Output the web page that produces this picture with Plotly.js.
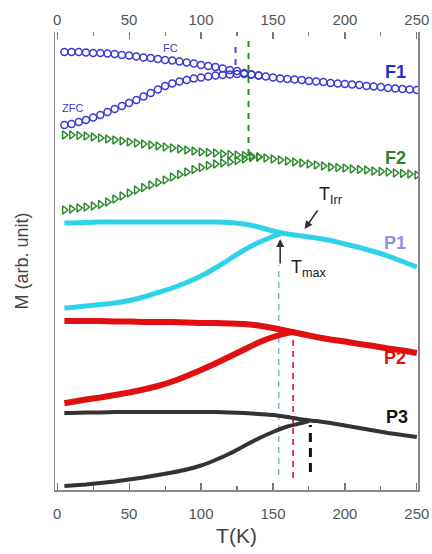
<!DOCTYPE html>
<html>
<head>
<meta charset="utf-8">
<script src="https://cdn.plot.ly/plotly-3.0.1.min.js"></script>
<style>html,body{margin:0;padding:0;background:#fff;}#chart{width:432px;height:554px;}</style>
</head>
<body>
<div id="chart"></div>
<script>
// Temperatures (K)
var T_F = [5,10,15,20,25,30,35,40,45,50,55,60,65,70,75,80,85,90,95,100,105,110,115,120,125,130,135,140,145,150,155,160,165,170,175,180,185,190,195,200,205,210,215,220,225,230,235,240,245,250];
var T_Fzfc = [5,10,15,20,25,30,35,40,45,50,55,60,65,70,75,80,85,90,95,100,105,110,115,120,125,130,135,140];
// F1 (arb. unit, offset stacked)
var F1_FC = [438,438,438,437.5,437,437,436.5,436,435,434.5,433.5,432.5,432,431,430,429.5,428.5,427.5,426.5,425,424,423,421.5,420,419,417,415.5,414.5,413.5,412.5,411.5,411,410.5,410,409,408.5,408,407,406.5,406,405.5,405,404,403.5,403,402,401.5,401,400.5,400];
var F1_ZFC = [365,366,368,370,372.5,375,378,381,384,387,390,393.5,397,400.5,404,406.5,408.5,410,411.5,412.5,413.5,414.5,415,415.5,416,416,415.5,414.5];
// F2
var F2_FC = [355,355,354.5,354,353,352,351,350,349,348,347,346,345,344,343,342,341,340,339,338,337.5,337,336,335.5,335,334.5,334,333,332,331,330,329,328,327,326,325,324,323,322.5,322,321,320.5,320,319,318.5,318,317,316.5,316,315];
var F2_ZFC = [280,281,282,283,284,285.5,288,291,294,297,300,302.5,305,307.5,310,313,315.5,318,320.5,322.5,324.5,326,327,328,329.5,331,332.5,333];
// P series
var T_P = [5,10,20,30,40,50,60,70,80,90,100,110,120,130,140,150,160,170,180,190,200,210,220,230,240,250];
var P1_FC = [267,267,267.5,268,268,268,268,268,268,268,268,268,267.5,266,263,259,256,254,252,249.5,246,242.5,238.5,234,228.5,223];
var T_P1zfc = [5,10,20,30,40,50,60,70,80,90,100,110,120,130,140,150,155];
var P1_ZFC = [182,182.5,184,185.5,187,189.5,193,197.5,202,207.5,214,222,231,240,247.5,253.5,256];
var P2_FC = [169,169,169,169,168.5,168.5,168,168,168,167.5,167,167,166.5,166,164.5,162,159,156,153,150.5,148.5,146,144,141.5,139.5,137];
var T_P2zfc = [5,10,20,30,40,50,60,70,80,90,100,110,120,130,140,150,160,165];
var P2_ZFC = [87,88,90.5,92.5,95,97.5,100.5,104,108.5,114,120,126.5,133.5,140.5,147.5,153,157,158];
var P3_FC = [77,77,77.5,77.5,78,78,78,78,78,78,78,78,77.5,77,76,75,73,70.5,69,67,64.5,62,59.5,57,55,53];
var T_P3zfc = [5,10,20,30,40,50,60,70,80,90,100,110,120,130,140,150,160,170,175];
var P3_ZFC = [4,4.5,5.5,7,8.5,10.5,12.5,15,17.5,20.5,24.5,30,36.5,44,51.5,58,63.5,67,69];
// marker temperatures (dashed guides): T value, lower M, upper M
var guideT = [124, 133, 154, 164, 176];
var guideLow = [425, 335, 15, 12, 18];
var guideHigh = [448, 450, 225, 152, 65];
var guideColor = ['#5b3fc8', '#2e8b2e', '#7fb2dc', '#d0304a', '#111111'];
var guideWidth = [2, 2, 1.5, 1.8, 3];
var guideDash = ['6px,6px', '6px,6px', '6px,5px', '6px,5px', '9px,6px'];

var traces = [];
for (var i = 0; i < guideT.length; i++) {
  traces.push({x:[guideT[i], guideT[i]], y:[guideLow[i], guideHigh[i]], mode:'lines',
    line:{color:guideColor[i], width:guideWidth[i], dash:guideDash[i]}, hoverinfo:'skip', showlegend:false});
}
function circ(x, y) {
  return {x:x, y:y, mode:'markers', marker:{symbol:'circle-open', size:7, color:'#3a3ad0', line:{width:1.5, color:'#3a3ad0'}}, showlegend:false};
}
function tri(x, y) {
  return {x:x, y:y, mode:'markers', marker:{symbol:'triangle-right-open', size:7, color:'#2e8a2e', line:{width:1.5, color:'#2e8a2e'}}, showlegend:false};
}
function ln(x, y, c, w) {
  return {x:x, y:y, mode:'lines', line:{color:c, width:w, shape:'spline', smoothing:0.5}, showlegend:false};
}
traces.push(circ(T_F, F1_FC));
traces.push(circ(T_Fzfc, F1_ZFC));
traces.push(tri(T_F, F2_FC));
traces.push(tri(T_Fzfc, F2_ZFC));
traces.push(ln(T_P, P1_FC, '#2ed3ea', 5));
traces.push(ln(T_P1zfc, P1_ZFC, '#2ed3ea', 5));
traces.push(ln(T_P, P2_FC, '#e01010', 6));
traces.push(ln(T_P2zfc, P2_ZFC, '#e01010', 6));
traces.push(ln(T_P, P3_FC, '#333333', 4));
traces.push(ln(T_P3zfc, P3_ZFC, '#333333', 4));
// invisible trace for top axis
traces.push({x:[0,250], y:[0,0], xaxis:'x2', mode:'markers', marker:{opacity:0}, hoverinfo:'skip', showlegend:false});

var axFont = {family:'Liberation Sans, Arial, sans-serif', size:15, color:'#555'};
var xCommon = {range:[-1.5, 250.8], tickvals:[0,50,100,150,200,250], ticks:'inside', ticklen:7, tickwidth:1.2,
  tickcolor:'#777', showgrid:false, zeroline:false, showline:true, linecolor:'#888', linewidth:1.5, tickfont:axFont,
  minor:{tickvals:[25,75,125,175,225], ticks:'inside', ticklen:4, tickcolor:'#777', tickwidth:1.1}};

var layout = {
  width:432, height:554,
  margin:{l:55, r:14, t:32, b:64},
  paper_bgcolor:'#fff', plot_bgcolor:'#fff',
  font:{family:'Liberation Sans, Arial, sans-serif'},
  xaxis:Object.assign({}, xCommon, {ticklabelstandoff:9, title:{text:'T(K)', font:{size:21, color:'#444'}, standoff:8}}),
  xaxis2:Object.assign({}, xCommon, {overlaying:'x', side:'top', matches:'x', showline:false, ticklabelstandoff:3}),
  yaxis:{range:[0,458], showticklabels:false, ticks:'', showgrid:false, zeroline:false, showline:true, mirror:true,
    linecolor:'#888', linewidth:1.5, title:{text:'M (arb. unit)', font:{size:18, color:'#444'}, standoff:20}},
  showlegend:false,
  annotations:[
    {x:78.5, y:442, text:'FC', showarrow:false, font:{size:11, color:'#3a3ad0'}},
    {x:11, y:382, text:'ZFC', showarrow:false, font:{size:11, color:'#3a3ad0'}},
    {x:235, y:418, text:'<b>F1</b>', showarrow:false, font:{size:18, color:'#1f2fd0'}},
    {x:235, y:332, text:'<b>F2</b>', showarrow:false, font:{size:18, color:'#2f7f2f'}},
    {x:235, y:247, text:'<b>P1</b>', showarrow:false, font:{size:18, color:'#8f8ff0'}},
    {x:235, y:132, text:'<b>P2</b>', showarrow:false, font:{size:18, color:'#e01010'}},
    {x:236, y:73, text:'<b>P3</b>', showarrow:false, font:{size:18, color:'#111'}},
    {x:190, y:295, text:'T<sub>Irr</sub>', showarrow:false, font:{size:18, color:'#222'}},
    {x:161, y:222, xanchor:'left', text:'T<sub>max</sub>', showarrow:false, font:{size:18, color:'#222'}},
    {x:155, y:251, ax:0, ay:26, text:'', showarrow:true, arrowhead:2, arrowsize:1, arrowwidth:1.6, arrowcolor:'#333'},
    {x:172, y:261, ax:14, ay:-20, text:'', showarrow:true, arrowhead:2, arrowsize:1, arrowwidth:1.6, arrowcolor:'#333'}
  ]
};
Plotly.newPlot('chart', traces, layout, {displayModeBar:false, staticPlot:true});
</script>
</body>
</html>
